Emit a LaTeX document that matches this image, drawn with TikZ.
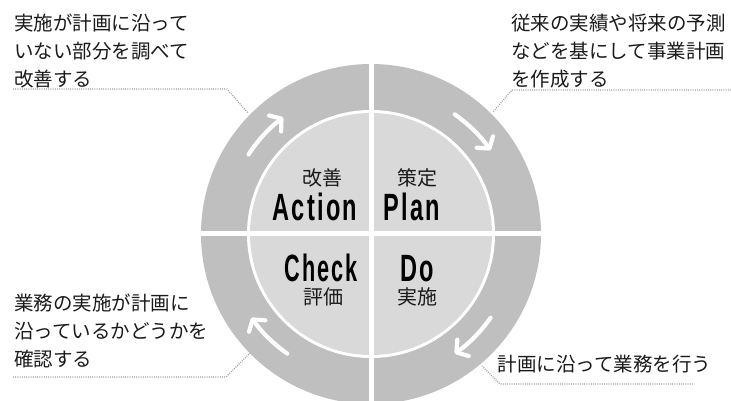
\documentclass[tikz,border=0pt]{standalone}
\usepackage{fontspec}
\setmainfont{Liberation Sans}
\newfontfamily\cjk{Noto Sans CJK JP}
\newfontfamily\bigfont{Liberation Sans}[FakeStretch=0.62,LetterSpace=6]
\usetikzlibrary{arrows.meta}
\definecolor{ringgray}{HTML}{BFBFBF}
\definecolor{diskgray}{HTML}{D9D9D9}
\definecolor{leadergray}{HTML}{A0A0A0}
\definecolor{txt}{HTML}{1A1A1A}
\begin{document}
\begin{tikzpicture}[x=1pt,y=1pt,
  desc/.style={font=\cjk\fontsize{19.5}{27.8}\selectfont, text=txt, align=left, inner sep=0, anchor=base west},
  small/.style={font=\cjk\fontsize{20}{22}\selectfont, text=txt, inner sep=0},
  big/.style={font=\bigfont\bfseries\fontsize{38}{40}\selectfont, text=black, inner sep=0, anchor=base},
  leader/.style={draw=leadergray, line width=1.2pt, dash pattern=on 1pt off 1.2pt},
  cyc/.style={white, line width=4.2pt, line cap=round, -{Straight Barb[length=8pt,width=20pt,round]}}]
\useasboundingbox (0,0) rectangle (731,401);
\clip (0,0) rectangle (731,401);
\coordinate (C) at (371,167);
% ring and disk
\fill[ringgray] (C) circle[radius=170];
\fill[white] (C) circle[radius=124];
\fill[diskgray] (C) circle[radius=121];
\draw[white, line width=5pt] ([yshift=175]C) -- ([yshift=-175]C);
\draw[white, line width=5pt] ([xshift=-175]C) -- ([xshift=175]C);
% cycle arrows
\draw[cyc] ([shift={(147:146)}]C) arc[start angle=147,end angle=127,radius=146];
\draw[cyc] ([shift={(55:146)}]C) arc[start angle=55,end angle=35,radius=146];
\draw[cyc] ([shift={(-35:146)}]C) arc[start angle=-35,end angle=-55,radius=146];
\draw[cyc] ([shift={(235:146)}]C) arc[start angle=235,end angle=215,radius=146];
% center labels
\node[small] (actJ) at (322,223) {改善};
\node[big] (act) at (315,180) {Action};
\node[small] (planJ) at (417,223) {策定};
\node[big] (plan) at (412,180) {Plan};
\node[big] (chk) at (321,119) {\scalebox{0.92}[1]{Check}};
\node[small] (chkJ) at (323,104) {評価};
\node[big] (do) at (417,119) {Do};
\node[small] (doJ) at (417,104) {実施};
% descriptions (base anchor = last line baseline)
\node[desc] (tl) at (14,314.6) {実施が計画に沿って\\いない部分を調べて\\改善する};
\node[desc] (tr) at (511,314.6) {従来の実績や将来の予測\\などを基にして事業計画\\を作成する};
\node[desc] (bl) at (14,34.6) {業務の実施が計画に\\沿っているかどうかを\\確認する};
\node[desc] (br) at (497.5,29.6) {計画に沿って業務を行う};
% leaders
\coordinate (tlA) at (13,312);
\coordinate (tlB) at (227,312);
\coordinate (tlC) at (248,288);
\coordinate (trA) at (731,311);
\coordinate (trB) at (512,311);
\coordinate (trC) at (493,289);
\coordinate (blA) at (13,24);
\coordinate (blB) at (226,24);
\coordinate (blC) at (250,48);
\coordinate (brA) at (693,17);
\coordinate (brB) at (500,17);
\coordinate (brC) at (482,35);
\draw[leader] (tlA) -- (tlB) -- (tlC);
\draw[leader] (trA) -- (trB) -- (trC);
\draw[leader] (blA) -- (blB) -- (blC);
\draw[leader] (brA) -- (brB) -- (brC);
\end{tikzpicture}
\end{document}
